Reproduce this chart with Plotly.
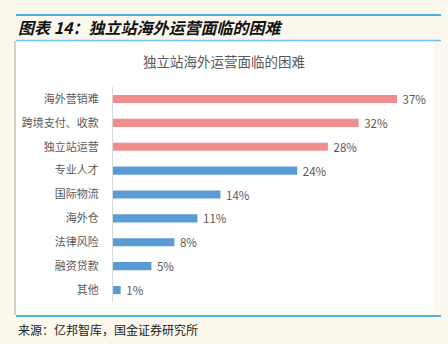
import plotly.graph_objects as go

categories = ["海外营销难", "跨境支付、收款", "独立站运营", "专业人才", "国际物流", "海外仓", "法律风险", "融资贷款", "其他"]
values = [37, 32, 28, 24, 14, 11, 8, 5, 1]
labels = ["37%", "32%", "28%", "24%", "14%", "11%", "8%", "5%", "1%"]
highlight = [True, True, True, False, False, False, False, False, False]

PINK = "#F08E8E"
BLUE = "#5B9BD5"
colors = [PINK if h else BLUE for h in highlight]

W, H = 448, 344
CJK = "Noto Sans CJK SC"

plot_left, plot_right = 113, 430
plot_top, plot_bottom = 87, 302
pw = plot_right - plot_left
ph = plot_bottom - plot_top

fig = go.Figure(go.Bar(
    x=values, y=categories, orientation="h",
    marker=dict(color=colors, line=dict(width=0)),
    text=labels, texttemplate=" %{text}", textposition="outside", cliponaxis=False,
    constraintext="none",
    textfont=dict(family=CJK, size=11.5, color="#595959"),
    width=0.34,
))

def px(x): return (x - plot_left) / pw
def py(y): return (plot_bottom - y) / ph

shapes = [
    dict(type="rect", xref="paper", yref="paper", x0=px(15), x1=px(433), y0=py(315), y1=py(41),
         fillcolor="white", line=dict(width=0), layer="below"),
    dict(type="line", xref="paper", yref="paper", x0=px(15), x1=px(15), y0=py(315), y1=py(41),
         line=dict(color="#A6A6A6", width=1)),
    dict(type="line", xref="paper", yref="paper", x0=px(16), x1=px(441), y0=py(15), y1=py(15),
         line=dict(color="#4FB0E3", width=2)),
    dict(type="line", xref="paper", yref="paper", x0=px(16), x1=px(441), y0=py(40.5), y1=py(40.5),
         line=dict(color="#6CC4EC", width=1.5)),
    dict(type="line", xref="paper", yref="paper", x0=px(16), x1=px(441), y0=py(316), y1=py(316),
         line=dict(color="#4FB0E3", width=2)),
]

annotations = [
    dict(text="<b><i>图表 14：独立站海外运营面临的困难</i></b>", xref="paper", yref="paper",
         x=px(16), y=py(27), xanchor="left", yanchor="middle", showarrow=False,
         font=dict(family=CJK, size=16, color="#111111")),
    dict(text="独立站海外运营面临的困难", xref="paper", yref="paper",
         x=px(224), y=py(61), xanchor="center", yanchor="middle", showarrow=False,
         font=dict(family=CJK, size=13.5, color="#595959")),
    dict(text="来源：亿邦智库，国金证券研究所", xref="paper", yref="paper",
         x=px(16), y=py(329), xanchor="left", yanchor="middle", showarrow=False,
         font=dict(family=CJK, size=12, color="#222222")),
]

px_per_unit = (397 - 113) / 37.0
xmax = pw / px_per_unit

fig.update_layout(
    width=W, height=H,
    margin=dict(l=plot_left, r=W - plot_right, t=plot_top, b=H - plot_bottom, pad=0),
    paper_bgcolor="#FCF8EE", plot_bgcolor="rgba(0,0,0,0)",
    showlegend=False,
    shapes=shapes, annotations=annotations,
    xaxis=dict(range=[0, xmax], visible=False, fixedrange=True),
    yaxis=dict(autorange="reversed", showline=True, linecolor="#D9D9D9", linewidth=1,
               showgrid=False, ticks="", ticklabelstandoff=11,
               tickfont=dict(family=CJK, size=11, color="#595959")),
)

fig.write_html("out.html")
